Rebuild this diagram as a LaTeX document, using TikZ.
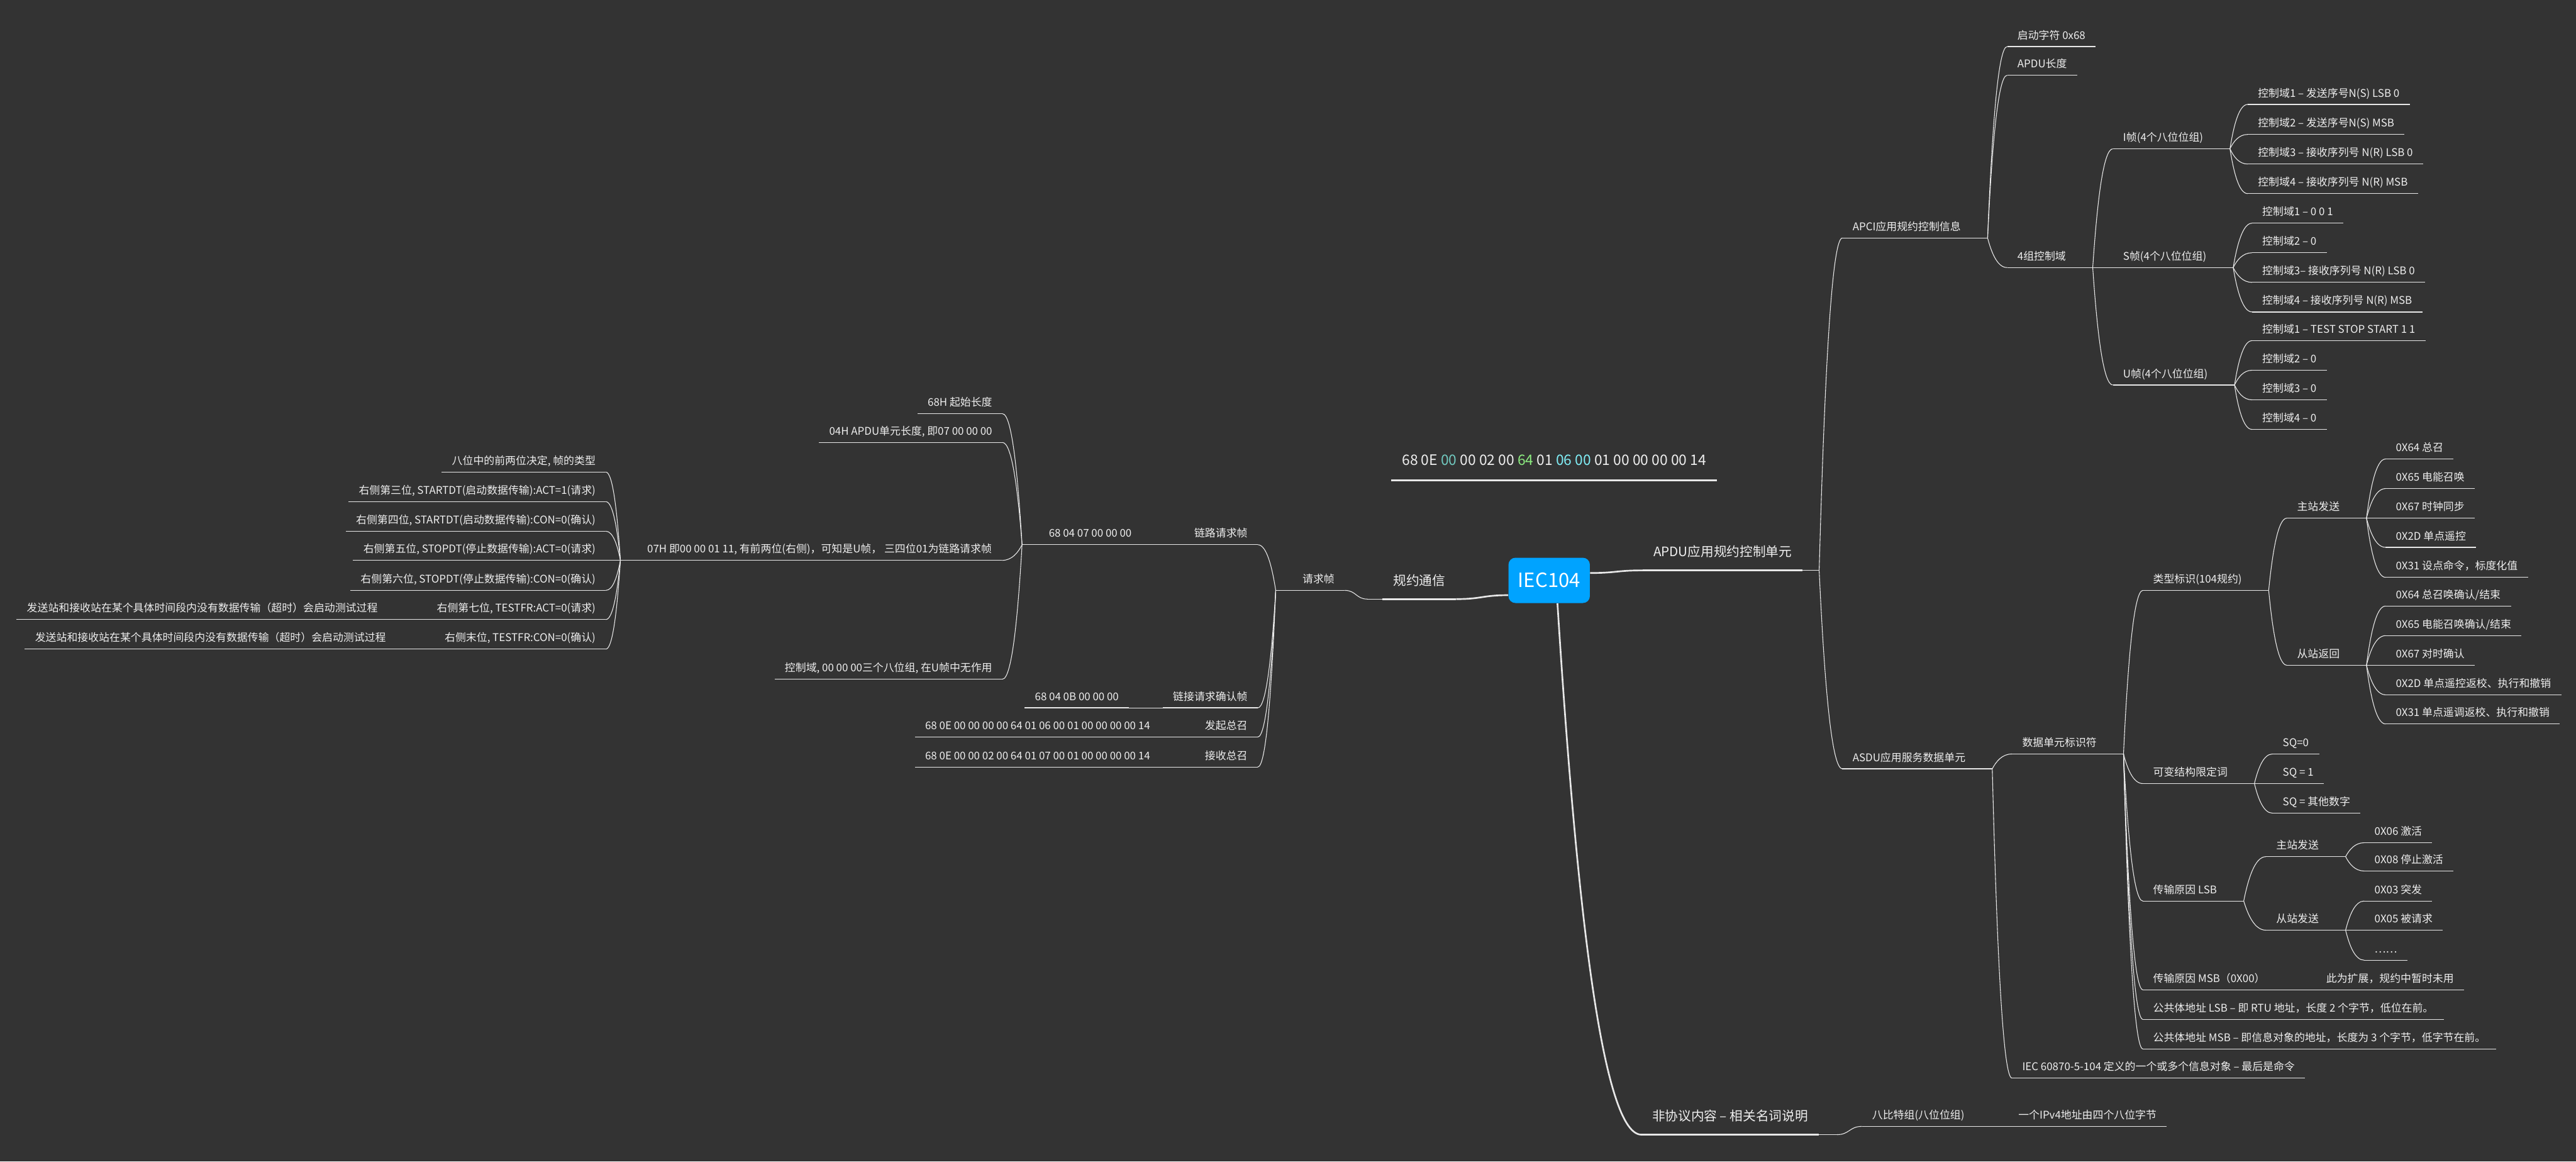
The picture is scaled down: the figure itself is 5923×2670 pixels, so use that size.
\documentclass[tikz,border=0pt]{standalone}
\usepackage{fontspec}
\setmainfont{Noto Sans CJK SC}
\usetikzlibrary{calc}
\definecolor{bgc}{RGB}{51,51,51}
\definecolor{linec}{RGB}{232,232,232}
\definecolor{txtc}{RGB}{238,238,238}
\definecolor{rootc}{RGB}{0,163,255}
\definecolor{hexteal}{RGB}{112,200,190}
\definecolor{hexgreen}{RGB}{140,236,128}
\definecolor{hexcyan}{RGB}{128,238,246}
\newcommand{\fs}{\fontsize{6.95pt}{8.5pt}\selectfont}
\newcommand{\fm}{\fontsize{8.5pt}{10pt}\selectfont}
% branch curves: vertical-ish start, rounded end / plain S shape
\newcommand{\bcurve}[3][conn]{\draw[#1] let \p1=(#2), \p2=(#3) in (\p1) .. controls ({\x1+0.2*(\x2-\x1)},{0.5*(\y1+\y2)}) and ({0.5*(\x1+\x2)},\y2) .. (\p2);}
\newcommand{\scurve}[3][conn]{\draw[#1] let \p1=(#2), \p2=(#3) in (\p1) .. controls ({0.5*(\x1+\x2)},\y1) and ({0.5*(\x1+\x2)},\y2) .. (\p2);}
\newcommand{\rbr}[2]{\draw[conn] (#1.south east) -- ++(38,0); \bcurve{$(#1.south east)+(38,0)$}{#2.south west}}
\newcommand{\lbr}[2]{\draw[conn] (#1.south west) -- ++(-38,0); \bcurve{$(#1.south west)+(-38,0)$}{#2.south east}}

\begin{document}
\begin{tikzpicture}[x=0.01cm, y=-0.01cm,
  conn/.style={draw=linec, line width=0.45pt},
  uline/.style={draw=linec, line width=0.55pt},
  mline/.style={draw=linec, line width=1.1pt},
  rootl/.style={draw=linec, line width=1.1pt},
  rt/.style={anchor=south west, inner xsep=0.23cm, inner ysep=0pt, text depth=0.165cm, font=\fs, text=txtc,
    append after command={(\tikzlastnode.south west) edge[uline] (\tikzlastnode.south east)}},
  lt/.style={rt, anchor=south east},
  rmain/.style={anchor=south west, inner xsep=0.24cm, inner ysep=0pt, text depth=0.31cm, font=\fm, text=txtc,
    append after command={(\tikzlastnode.south west) edge[mline] (\tikzlastnode.south east)}},
  lmain/.style={rmain, anchor=south east},
  rootbox/.style={fill=rootc, rounded corners=0.16cm, minimum width=1.87cm, minimum height=1.04cm, inner sep=0pt,
    text=white, font=\fontsize{12.8pt}{14pt}\selectfont}]
\useasboundingbox (0,0) rectangle (5923,2670);
\fill[bgc] (0,0) rectangle (5923,2670);

\node[rootbox] (root) at (3562,1334) {IEC104};
\node[rmain, inner xsep=0.24cm, text depth=0.34cm, font=\fontsize{9.4pt}{11pt}\selectfont] (hex) at (3199,1104)
  {68 0E \textcolor{hexteal}{00} 00 02 00 \textcolor{hexgreen}{64} 01 \textcolor{hexcyan}{06 00} 01 00 00 00 00 14};

% APDU
\node[rmain] (apdu) at (3777,1311) {APDU应用规约控制单元};
\node[rt] (apci) at (4236,547) {APCI应用规约控制信息};
\node[rt] (qd) at (4615,107) {启动字符 0x68};
\node[rt] (len) at (4615,173) {APDU长度};
\node[rt] (ctl) at (4615,615) {4组控制域};
\node[rt] (iframe) at (4858,342) {I帧(4个八位位组)};
\node[rt] (sframe) at (4858,615) {S帧(4个八位位组)};
\node[rt] (uframe) at (4858,885) {U帧(4个八位位组)};
\node[rt] (i1) at (5168,240) {控制域1 – 发送序号N(S) LSB 0};
\node[rt] (i2) at (5168,309) {控制域2 – 发送序号N(S) MSB};
\node[rt] (i3) at (5168,377) {控制域3 – 接收序列号 N(R) LSB 0};
\node[rt] (i4) at (5168,445) {控制域4 – 接收序列号 N(R) MSB};
\node[rt] (s1) at (5178,513) {控制域1 – 0 0 1};
\node[rt] (s2) at (5178,581) {控制域2 – 0};
\node[rt] (s3) at (5178,649) {控制域3– 接收序列号 N(R) LSB 0};
\node[rt] (s4) at (5178,717) {控制域4 – 接收序列号 N(R) MSB};
\node[rt] (u1) at (5178,783) {控制域1 – TEST STOP START 1 1};
\node[rt] (u2) at (5178,851) {控制域2 – 0};
\node[rt] (u3) at (5178,919) {控制域3 – 0};
\node[rt] (u4) at (5178,987) {控制域4 – 0};

\node[rt] (asdu) at (4236,1767) {ASDU应用服务数据单元};
\node[rt] (dui) at (4626,1733) {数据单元标识符};
\node[rt] (obj) at (4626,2478) {IEC 60870-5-104 定义的一个或多个信息对象 – 最后是命令};
\node[rt] (type) at (4927,1357) {类型标识(104规约)};
\node[rt] (vsq) at (4927,1801) {可变结构限定词};
\node[rt] (cot) at (4927,2071) {传输原因 LSB};
\node[rt] (cotm) at (4927,2275) {传输原因 MSB（0X00）};
\node[rt] (ca1) at (4927,2343) {公共体地址 LSB – 即 RTU 地址，长度 2 个字节，低位在前。};
\node[rt] (ca2) at (4927,2411) {公共体地址 MSB – 即信息对象的地址，长度为 3 个字节，低字节在前。};
\node[rt] (ext) at (5325,2275) {此为扩展，规约中暂时未用};
\node[rt] (msend) at (5258,1191) {主站发送};
\node[rt] (sret) at (5258,1529) {从站返回};
\node[rt] (t1) at (5485,1055) {0X64 总召};
\node[rt] (t2) at (5485,1123) {0X65 电能召唤};
\node[rt] (t3) at (5485,1191) {0X67 时钟同步};
\node[rt] (t4) at (5485,1258) {0X2D 单点遥控};
\node[rt] (t5) at (5485,1327) {0X31 设点命令，标度化值};
\node[rt] (r1) at (5485,1393) {0X64 总召唤确认/结束};
\node[rt] (r2) at (5485,1461) {0X65 电能召唤确认/结束};
\node[rt] (r3) at (5485,1529) {0X67 对时确认};
\node[rt] (r4) at (5485,1597) {0X2D 单点遥控返校、执行和撤销};
\node[rt] (r5) at (5485,1664) {0X31 单点遥调返校、执行和撤销};
\node[rt] (sq0) at (5225,1733) {SQ=0};
\node[rt] (sq1) at (5225,1801) {SQ = 1};
\node[rt] (sq2) at (5225,1869) {SQ = 其他数字};
\node[rt] (cm) at (5210,1969) {主站发送};
\node[rt] (cs) at (5210,2138) {从站发送};
\node[rt] (c1) at (5436,1937) {0X06 激活};
\node[rt] (c2) at (5436,2002) {0X08 停止激活};
\node[rt] (c3) at (5436,2071) {0X03 突发};
\node[rt] (c4) at (5436,2138) {0X05 被请求};
\node[rt] (c5) at (5436,2207) {……};

% non-protocol
\node[rmain] (nonp) at (3774,2608) {非协议内容 – 相关名词说明};
\node[rt] (byte) at (4281,2589) {八比特组(八位位组)};
\node[rt] (ipv4) at (4617,2589) {一个IPv4地址由四个八位字节};

% left side
\node[lmain] (gy) at (3348,1377) {规约通信};
\node[lt] (req) at (3092,1357) {请求帧};
\node[lt] (lr) at (2892,1252) {链路请求帧};
\node[lt] (lc) at (2892,1627) {链接请求确认帧};
\node[lt] (fq) at (2892,1694) {发起总召};
\node[lt] (js) at (2892,1763) {接收总召};
\node[lt, anchor=south west] (lrh) at (2388,1252) {68 04 07 00 00 00};
\node[lt] (lch) at (2596,1627) {68 04 0B 00 00 00};
\node[lt] (fqh) at (2668,1694) {68 0E 00 00 00 00 64 01 06 00 01 00 00 00 00 14};
\node[lt] (jsh) at (2668,1763) {68 0E 00 00 02 00 64 01 07 00 01 00 00 00 00 14};
\node[lt] (h1) at (2305,951) {68H 起始长度};
\node[lt] (h2) at (2305,1017) {04H APDU单元长度, 即07 00 00 00};
\node[lt] (h3) at (2304,1288) {07H 即00 00 01 11, 有前两位(右侧)，可知是U帧， 三四位01为链路请求帧};
\node[lt] (h4) at (2305,1561) {控制域, 00 00 00三个八位组, 在U帧中无作用};
\node[lt] (b1) at (1393,1085) {八位中的前两位决定, 帧的类型};
\node[lt] (b2) at (1393,1153) {右侧第三位, STARTDT(启动数据传输):ACT=1(请求)};
\node[lt] (b3) at (1393,1221) {右侧第四位, STARTDT(启动数据传输):CON=0(确认)};
\node[lt] (b4) at (1393,1288) {右侧第五位, STOPDT(停止数据传输):ACT=0(请求)};
\node[lt] (b5) at (1393,1357) {右侧第六位, STOPDT(停止数据传输):CON=0(确认)};
\node[lt] (b6) at (1393,1424) {右侧第七位, TESTFR:ACT=0(请求)};
\node[lt] (b7) at (1393,1492) {右侧末位, TESTFR:CON=0(确认)};
\node[lt] (b6a) at (892,1424) {发送站和接收站在某个具体时间段内没有数据传输（超时）会启动测试过程};
\node[lt] (b7a) at (911,1492) {发送站和接收站在某个具体时间段内没有数据传输（超时）会启动测试过程};

% root connectors
\scurve[rootl]{$(root.east)+(0,-17)$}{apdu.south west}
\scurve[rootl]{$(root.west)+(0,34)$}{gy.south east}
\bcurve[rootl]{$(root.south)+(19,0)$}{nonp.south west}
\draw[conn] (gy.south west) -- ++(-35,0);
\scurve{$(gy.south west)+(-35,0)$}{req.south east}
\draw[conn] (nonp.south east) -- ++(42,0);
\scurve{$(nonp.south east)+(42,0)$}{byte.south west}

% right branches
\foreach \nd in {apci,asdu} {\rbr{apdu}{\nd}}
\foreach \nd in {qd,len,ctl} {\rbr{apci}{\nd}}
\foreach \nd in {iframe,sframe,uframe} {\rbr{ctl}{\nd}}
\foreach \nd in {i1,i2,i3,i4} {\rbr{iframe}{\nd}}
\foreach \nd in {s1,s2,s3,s4} {\rbr{sframe}{\nd}}
\foreach \nd in {u1,u2,u3,u4} {\rbr{uframe}{\nd}}
\foreach \nd in {dui,obj} {\rbr{asdu}{\nd}}
\foreach \nd in {type,vsq,cot,cotm,ca1,ca2} {\rbr{dui}{\nd}}
\foreach \nd in {msend,sret} {\rbr{type}{\nd}}
\foreach \nd in {t1,t2,t3,t4,t5} {\rbr{msend}{\nd}}
\foreach \nd in {r1,r2,r3,r4,r5} {\rbr{sret}{\nd}}
\foreach \nd in {sq0,sq1,sq2} {\rbr{vsq}{\nd}}
\foreach \nd in {cm,cs} {\rbr{cot}{\nd}}
\foreach \nd in {c1,c2} {\rbr{cm}{\nd}}
\foreach \nd in {c3,c4,c5} {\rbr{cs}{\nd}}
\rbr{cotm}{ext}
\rbr{byte}{ipv4}

% left branches
\foreach \nd in {lr,lc,fq,js} {\lbr{req}{\nd}}
\lbr{lr}{lrh}
\lbr{lc}{lch}
\lbr{fq}{fqh}
\lbr{js}{jsh}
\foreach \nd in {h1,h2,h3,h4} {\lbr{lrh}{\nd}}
\foreach \nd in {b1,b2,b3,b4,b5,b6,b7} {\lbr{h3}{\nd}}
\lbr{b6}{b6a}
\lbr{b7}{b7a}
\end{tikzpicture}
\end{document}
